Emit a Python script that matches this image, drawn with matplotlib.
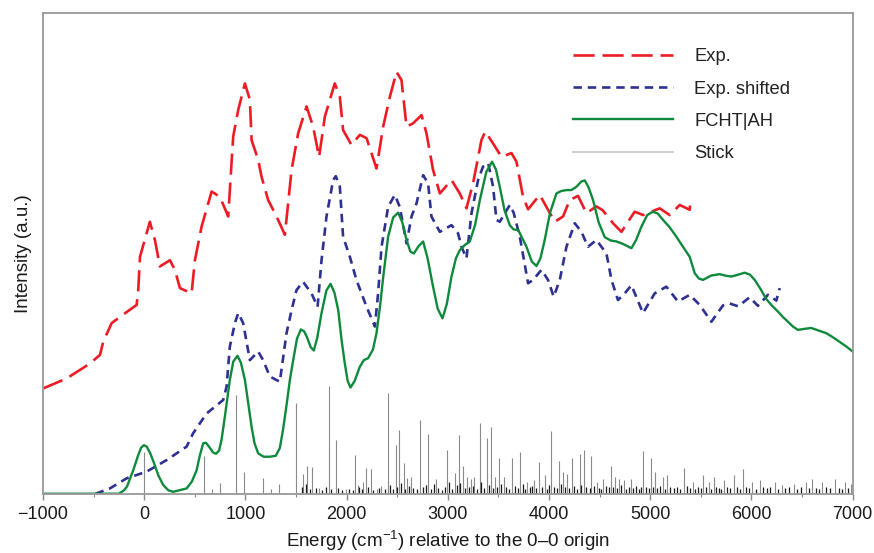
import numpy as np
import matplotlib
matplotlib.use("Agg")
import matplotlib.pyplot as plt
from matplotlib.lines import Line2D
from matplotlib.ticker import MultipleLocator

plt.rcParams['font.family'] = ['Liberation Sans', 'DejaVu Sans']
plt.rcParams['mathtext.fontset'] = 'custom'
plt.rcParams['mathtext.rm'] = 'Liberation Sans'
plt.rcParams['mathtext.it'] = 'Liberation Sans:italic'

# experimental spectrum (energy in cm-1, intensity in arbitrary units)
exp_e = [-1000, -766, -536, -437, -405, -322, -240, -75, -59, -42, 56, 106, 155, 254, 303,
         353, 468, 501, 567, 666, 748, 830, 879, 929, 995, 1044, 1061, 1126, 1159, 1225,
         1308, 1390, 1456, 1521, 1604, 1669, 1728, 1785, 1883, 1933, 1965, 2048, 2131, 2197,
         2295, 2361, 2427, 2493, 2542, 2592, 2657, 2740, 2789, 2854, 2921, 3036, 3118, 3184,
         3249, 3332, 3370, 3447, 3530, 3629, 3678, 3743, 3793, 3908, 3990, 4057, 4138, 4204,
         4286, 4369, 4468, 4530, 4632, 4715, 4846, 4930, 5093, 5192, 5291, 5390, 5397]
exp_i = [21.9, 24.0, 27.1, 28.9, 31.6, 35.5, 36.8, 39.3, 42.4, 49.3, 56.6, 52.8, 47.3, 48.6, 46.6,
         42.8, 41.7, 48.6, 55.6, 62.9, 61.8, 57.7, 74.3, 79.9, 85.4, 82.0, 73.6, 69.5, 66.0, 61.1,
         57.7, 53.9, 67.4, 75.0, 80.6, 76.4, 70.1, 78.5, 85.4, 82.6, 75.7, 72.6, 74.7, 74.0,
         67.7, 76.4, 82.6, 87.8, 86.1, 76.4, 77.1, 78.8, 75.0, 67.4, 62.5, 65.3, 62.5, 59.4,
         64.6, 73.6, 75.4, 72.9, 70.1, 70.9, 69.1, 61.8, 59.2, 62.2, 59.1, 56.6, 57.7, 61.1,
         62.0, 58.4, 59.8, 59.0, 56.3, 54.5, 58.7, 58.0, 59.4, 58.0, 60.1, 59.1, 61.1]

# experimental spectrum shifted
shift_e = [-480, -339, -174, 24, 221, 419, 484, 616, 780, 814, 846, 896, 929, 978, 1044, 1126,
           1175, 1241, 1340, 1406, 1456, 1505, 1570, 1653, 1713, 1752, 1801, 1867, 1893, 1933,
           1965, 2032, 2097, 2197, 2279, 2311, 2345, 2410, 2476, 2525, 2592, 2641, 2690, 2756,
           2805, 2838, 2921, 3036, 3101, 3135, 3184, 3234, 3299, 3348, 3399, 3447, 3480, 3513,
           3612, 3650, 3711, 3793, 3842, 3925, 3990, 4046, 4106, 4172, 4254, 4320, 4385, 4468,
           4567, 4617, 4681, 4748, 4814, 4928, 5044, 5159, 5274, 5390, 5488, 5604, 5719, 5784,
           5870, 5982, 6064, 6163, 6246, 6279]
shift_i = [0.0, 1.1, 3.2, 4.6, 7.0, 9.8, 12.6, 16.7, 19.5, 22.3, 30.6, 35.5, 37.6, 35.5, 27.8, 29.6,
           27.8, 24.4, 23.3, 33.4, 38.2, 42.4, 44.1, 41.7, 38.9, 48.6, 57.7, 65.3, 66.1, 63.9,
           53.5, 49.3, 44.5, 38.9, 34.8, 41.7, 51.4, 59.7, 62.2, 59.7, 52.1, 57.7, 60.4, 66.3,
           64.6, 57.7, 54.5, 55.9, 54.2, 51.4, 49.0, 58.4, 65.3, 68.1, 68.8, 63.9, 57.0, 56.6,
           60.1, 58.5, 53.5, 43.8, 44.5, 46.6, 44.5, 41.0, 44.5, 51.4, 56.3, 54.5, 51.4, 52.8,
           50.0, 44.5, 40.3, 41.7, 43.4, 37.6, 41.7, 43.1, 40.0, 41.4, 39.3, 35.8, 39.2, 39.6,
           39.0, 40.9, 39.1, 41.4, 40.2, 42.8]

# FCHT|AH simulated spectrum
fcht_e = [-1000, -250, -200, -170, -108, -60, -30, -3, 25, 60, 100, 140, 188, 240, 286, 419,
          470, 518, 550, 583, 610, 640, 680, 710, 740, 764, 800, 846, 880, 922, 955, 995, 1030,
          1061, 1090, 1126, 1180, 1241, 1300, 1340, 1373, 1410, 1440, 1472, 1510, 1548, 1580,
          1610, 1645, 1676, 1710, 1752, 1800, 1841, 1880, 1917, 1950, 1982, 2010, 2038, 2080,
          2130, 2170, 2212, 2260, 2295, 2330, 2361, 2410, 2460, 2509, 2550, 2592, 2630, 2664,
          2710, 2756, 2800, 2854, 2900, 2947, 2990, 3036, 3080, 3118, 3170, 3217, 3270, 3316,
          3380, 3437, 3475, 3513, 3560, 3612, 3650, 3695, 3740, 3777, 3830, 3876, 3915, 3957,
          4010, 4073, 4120, 4172, 4220, 4271, 4320, 4353, 4390, 4435, 4490, 4550, 4610, 4666,
          4740, 4814, 4860, 4913, 4970, 5027, 5075, 5126, 5190, 5258, 5320, 5390, 5439, 5480,
          5521, 5600, 5686, 5740, 5801, 5870, 5933, 5985, 6032, 6090, 6147, 6200, 6262, 6310,
          6360, 6410, 6459, 6520, 6590, 6660, 6741, 6810, 6872, 6940, 7000]
fcht_i = [0.0, 0.0, 0.7, 1.5, 4.9, 8.0, 9.6, 10.1, 9.8, 8.4, 6.2, 3.8, 1.8, 0.7, 0.4, 1.1,
          2.5, 4.9, 8.0, 10.5, 10.6, 9.8, 8.6, 8.3, 9.0, 11.2, 16.5, 23.7, 27.5, 28.7, 27.3, 23.7, 18.5,
          13.9, 10.5, 8.4, 7.7, 7.7, 7.9, 9.5, 13.5, 19.0, 23.8, 27.8, 32.3, 34.2, 33.8,
          32.5, 30.5, 29.8, 32.5, 37.6, 42.3, 43.7, 41.8, 38.2, 32.0, 27.1, 23.5, 22.1, 23.5,
          26.4, 27.8, 28.2, 30.0, 33.4, 39.0, 45.0, 53.5, 57.5, 58.5, 56.5, 52.8, 50.4, 50.0,
          51.5, 52.5, 49.0, 43.1, 38.5, 36.5, 39.5, 45.2, 49.0, 50.7, 51.8, 52.5, 56.0, 61.1,
          67.0, 69.1, 67.5, 63.9, 59.0, 55.9, 55.0, 54.9, 53.0, 51.4, 48.3, 47.4, 49.0, 52.8,
          58.5, 62.5, 63.0, 63.2, 63.2, 63.9, 65.0, 65.2, 63.8, 61.1, 56.5, 53.4, 52.7, 52.5,
          51.9, 51.1, 52.8, 55.6, 58.0, 58.7, 58.3, 57.0, 55.5, 53.5, 51.5, 49.3, 45.9, 44.8,
          44.5, 45.4, 45.7, 45.4, 45.2, 45.6, 46.0, 45.6, 44.5, 42.6, 40.5, 39.2, 37.9, 36.8,
          35.8, 34.8, 34.1, 34.3, 34.5, 34.0, 33.4, 32.5, 31.6, 30.6, 29.6]

# stick transitions
stick_e = [0, 586, 669, 748, 906, 985, 1176, 1250, 1334, 1495, 1571, 1610, 1653, 1730, 1821,
           1893, 1990, 2084, 2110, 2163, 2196, 2240, 2300, 2340, 2411, 2486, 2522, 2562, 2600,
           2640, 2726, 2802, 2880, 2993, 3069, 3108, 3151, 3190, 3230, 3260, 3319, 3391, 3431,
           3470, 3510, 3550, 3638, 3711, 3780, 3850, 3905, 3960, 4020, 4096, 4140, 4180, 4227,
           4303, 4343, 4419, 4470, 4530, 4609, 4650, 4690, 4740, 4810, 4932, 5005, 5050, 5130,
           5170, 5330, 5420, 5520, 5580, 5630, 5730, 5830, 5920, 6010, 6080, 6230, 6300, 6420,
           6540, 6600, 6700, 6830, 6920, 6980]
stick_i = [8.7, 7.8, 0.9, 2.3, 20.5, 4.6, 3.2, 1.0, 2.0, 18.8, 4.2, 5.8, 5.5, 1.2, 22.4,
           11.2, 1.0, 8.1, 1.8, 2.5, 5.3, 5.1, 1.0, 1.6, 21.0, 10.2, 13.3, 6.3, 3.3,
           3.5, 15.3, 12.4, 3.0, 9.2, 4.4, 12.2, 5.8, 3.5, 3.0, 3.5, 14.8, 11.6, 13.9,
           3.5, 7.4, 3.5, 7.5, 8.6, 2.5, 2.8, 6.7, 4.0, 13.1, 6.8, 4.5, 4.2, 7.4,
           8.3, 9.2, 7.9, 2.5, 3.0, 5.8, 3.5, 3.0, 2.8, 3.0, 8.9, 7.5, 4.5, 3.5,
           3.8, 5.3, 2.5, 3.8, 2.5, 3.5, 2.8, 3.8, 5.1, 2.5, 2.8, 2.5, 1.8, 2.0,
           2.5, 3.0, 2.5, 3.0, 2.5, 2.0]

# weak transitions forming the dark band along the baseline
weak_e = [1560, 1600, 1640, 1700, 1760, 1800, 1850, 1910, 1950, 2020, 2060, 2120, 2150, 2210,
          2260, 2320, 2380, 2430, 2460, 2500, 2540, 2580, 2620, 2660, 2700, 2750, 2780, 2830,
          2860, 2900, 2940, 2970, 3010, 3040, 3090, 3120, 3170, 3210, 3250, 3290, 3330, 3360,
          3410, 3450, 3490, 3530, 3570, 3600, 3660, 3690, 3740, 3760, 3810, 3830, 3870, 3930,
          3980, 4000, 4050, 4080, 4120, 4160, 4200, 4250, 4280, 4320, 4370, 4400, 4440, 4490,
          4510, 4560, 4590, 4630, 4670, 4710, 4760, 4790, 4830, 4860, 4890, 4910, 4960, 4990,
          5030, 5070, 5100, 5150, 5200, 5230, 5260, 5290, 5360, 5390, 5440, 5470, 5500, 5550,
          5600, 5650, 5680, 5700, 5760, 5790, 5860, 5890, 5950, 5980, 6040, 6110, 6150, 6180,
          6260, 6330, 6370, 6450, 6490, 6570, 6640, 6670, 6740, 6780, 6860, 6890, 6950]
weak_i = [1.5, 2.0, 1.0, 1.2, 0.8, 1.5, 0.9, 1.2, 0.7, 1.0, 0.8, 1.3, 0.9, 1.4,
          0.8, 1.1, 1.0, 1.8, 0.9, 1.5, 2.2, 1.0, 1.6, 1.2, 0.9, 1.4, 1.8, 1.0,
          2.0, 1.2, 0.8, 1.5, 2.5, 1.0, 1.8, 2.2, 1.1, 1.4, 1.7, 1.0, 2.4, 1.2,
          1.9, 1.1, 1.5, 2.0, 1.3, 1.0, 1.6, 1.2, 2.1, 1.0, 1.4, 1.7, 1.2, 1.5,
          1.0, 1.8, 1.3, 1.1, 2.0, 1.4, 1.2, 1.7, 1.0, 1.9, 1.3, 1.1, 1.6, 1.2,
          1.0, 1.7, 1.3, 1.5, 1.1, 1.8, 1.0, 1.4, 1.2, 1.6, 1.0, 1.3, 1.5, 1.1,
          1.4, 1.2, 1.7, 1.0, 1.3, 1.1, 1.5, 1.0, 1.6, 1.2, 1.0, 1.4, 1.1, 1.3,
          1.0, 1.5, 1.2, 1.0, 1.4, 1.1, 1.3, 1.0, 1.5, 1.2, 1.0, 1.3, 1.1, 1.4,
          1.0, 1.2, 1.3, 1.0, 1.4, 1.1, 1.2, 1.0, 1.3, 1.1, 1.2, 1.0, 1.1]

fig = plt.figure(figsize=(8.74, 5.53), dpi=100)
ax = fig.add_axes([0.0492, 0.1072, 0.9264, 0.8688])

ax.vlines(stick_e, 0, stick_i, color='#8a8a8a', lw=0.8)
ax.vlines(weak_e, 0, weak_i, color='#1a1a1a', lw=0.9)
ax.plot(shift_e, shift_i, color='#2e3192', lw=1.9, dashes=[3.2, 2.2])
ax.plot(exp_e, exp_i, color='#ed1c24', lw=1.9, dashes=[8, 3])
ax.plot(fcht_e, fcht_i, color='#0f8a3c', lw=1.7)

ax.set_xlim(-1000, 7000)
ax.set_ylim(0, 100)
ax.set_yticks([])
ax.xaxis.set_major_locator(MultipleLocator(1000))
ax.xaxis.set_minor_locator(MultipleLocator(500))
ax.tick_params(axis='x', which='major', length=4, width=1, color='#888888',
               labelsize=13, labelcolor='#1a1a1a', pad=5)
ax.tick_params(axis='x', which='minor', length=2.5, width=0.8, color='#888888')
for s in ax.spines.values():
    s.set_color('#999999')
    s.set_linewidth(1.3)

ax.set_xlabel('Energy (cm$^{-1}$) relative to the 0–0 origin', fontsize=13.5,
              color='#1a1a1a', labelpad=4)
ax.set_ylabel('Intensity (a.u.)', fontsize=13.5, color='#1a1a1a', labelpad=8)

handles = [
    Line2D([], [], color='#ed1c24', lw=1.9, dashes=[8, 3]),
    Line2D([], [], color='#2e3192', lw=1.9, dashes=[3.2, 2.2]),
    Line2D([], [], color='#0f8a3c', lw=1.7),
    Line2D([], [], color='#cccccc', lw=1.3),
]
labels = ['Exp.', 'Exp. shifted', 'FCHT|AH', 'Stick']
ax.legend(handles, labels, loc='upper left', bbox_to_anchor=(0.646, 0.942), frameon=False,
          fontsize=13.2, handlelength=5.45, handletextpad=1.15, labelspacing=0.83,
          labelcolor='#222222', borderaxespad=0)

fig.savefig('out.png', dpi=100)
